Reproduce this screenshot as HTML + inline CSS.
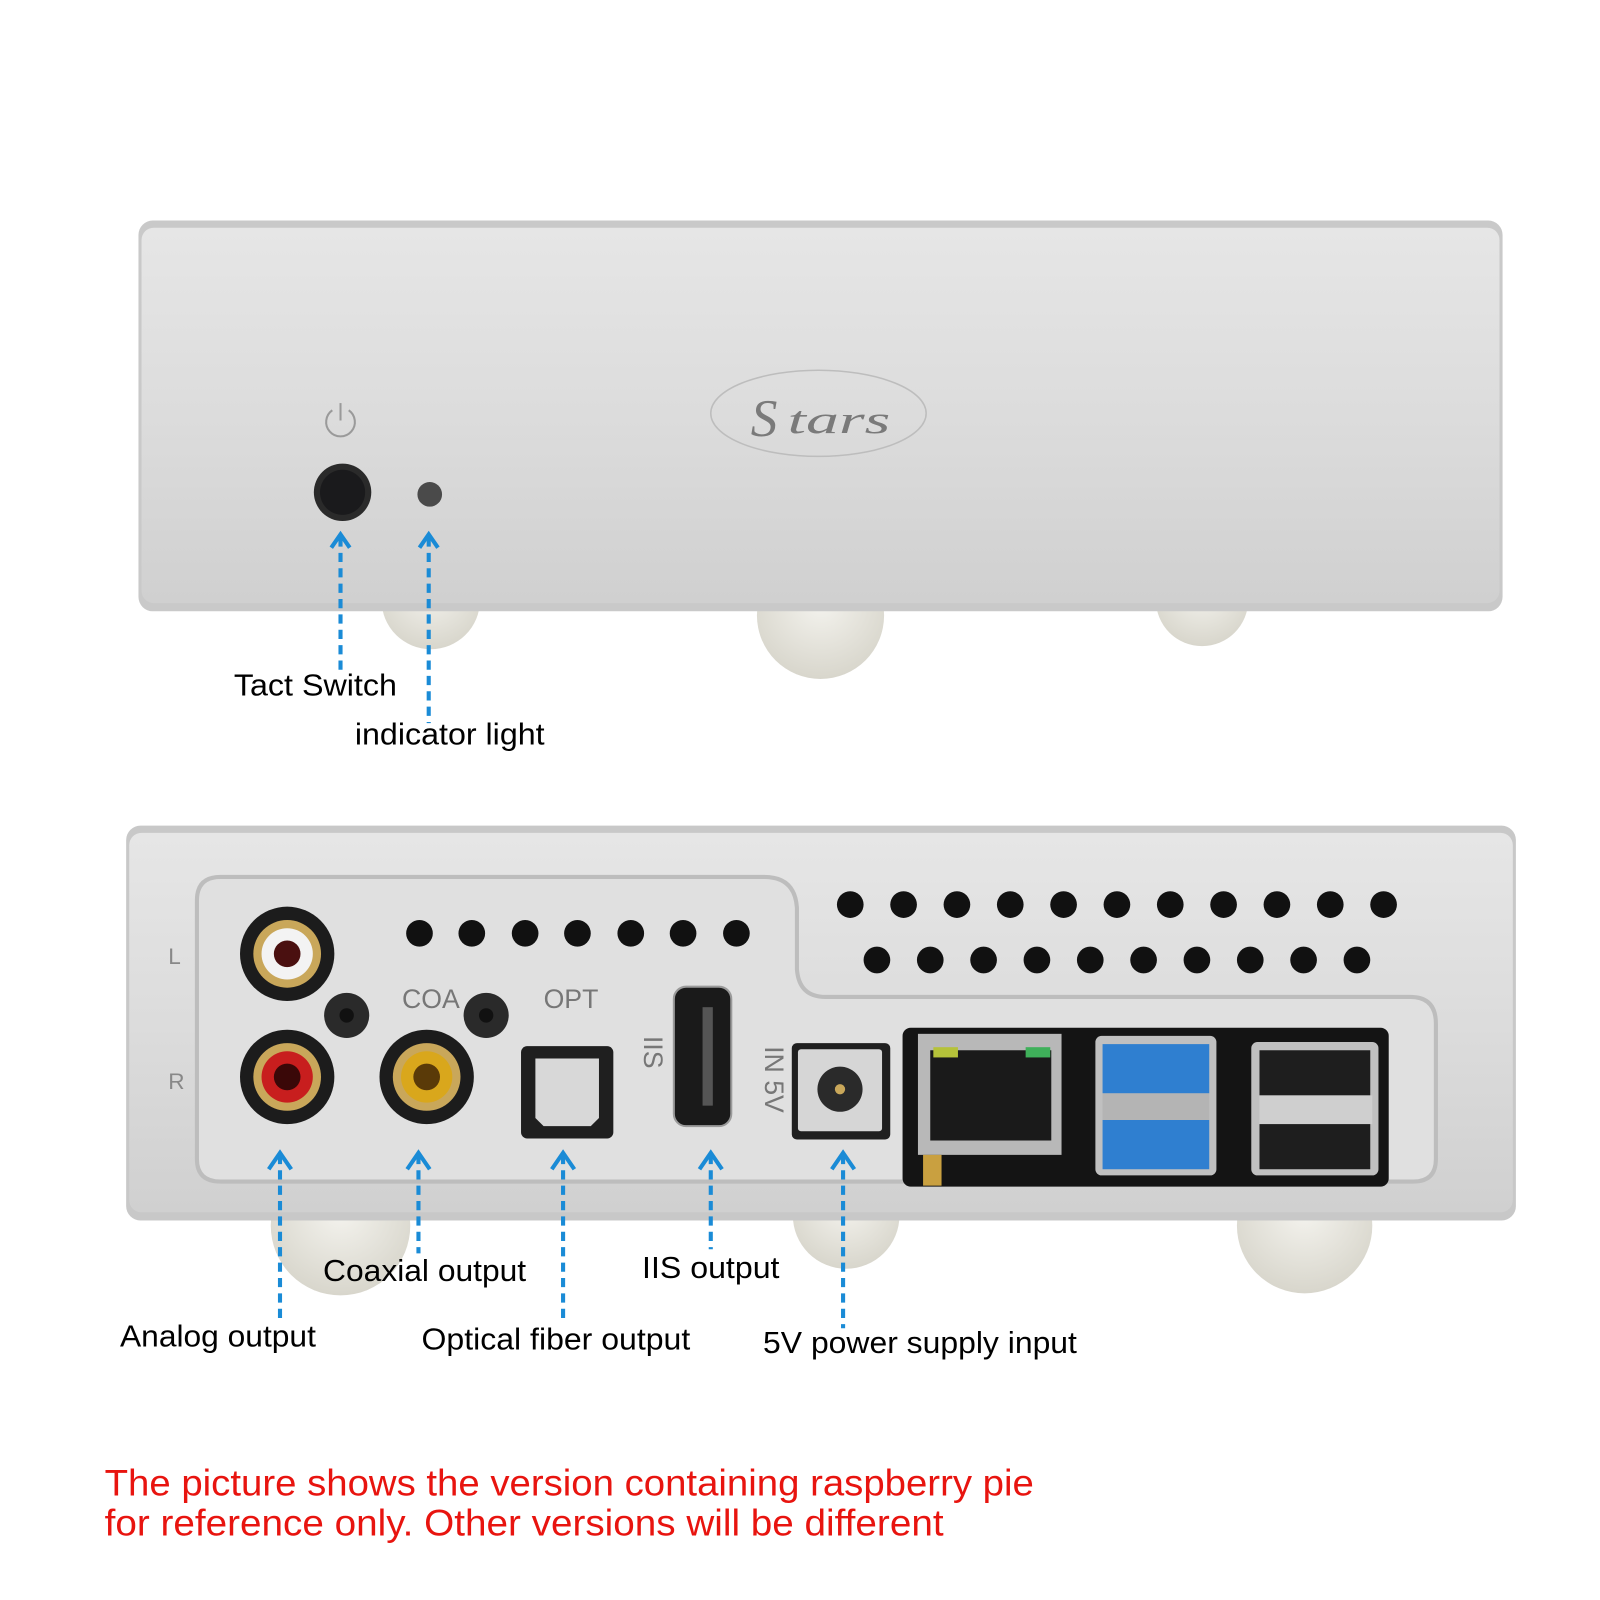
<!DOCTYPE html>
<html><head><meta charset="utf-8"><style>
html,body{margin:0;padding:0;background:#fff;}
svg{display:block;}
text{font-family:"Liberation Sans",sans-serif;}
</style></head><body>
<svg width="1600" height="1600" viewBox="0 0 1560 1560" xmlns="http://www.w3.org/2000/svg">
<defs>
<linearGradient id="box" x1="0" y1="0" x2="0" y2="1">
<stop offset="0" stop-color="#e6e6e6"/><stop offset="0.5" stop-color="#dcdcdc"/><stop offset="1" stop-color="#d0d0d0"/>
</linearGradient>
<radialGradient id="foot" cx="0.5" cy="0.4" r="0.6">
<stop offset="0" stop-color="#f4f3ee"/><stop offset="1" stop-color="#d8d6cc"/>
</radialGradient>
</defs>
<rect width="1560" height="1560" fill="#fff"/>

<circle cx="420" cy="585" r="48" fill="url(#foot)"/>
<circle cx="800" cy="600" r="62" fill="url(#foot)"/>
<circle cx="1172" cy="585" r="45" fill="url(#foot)"/>
<rect x="135" y="215" width="1330" height="381" rx="14" fill="#c9c9c9"/>
<rect x="138" y="222" width="1324" height="366" rx="12" fill="url(#box)"/>
<ellipse cx="798" cy="403" rx="105" ry="42" fill="none" stroke="#bdbdbd" stroke-width="1.5"/>
<text x="732" y="425" font-style="italic" font-size="52" fill="#7a7a7a" style="font-family:'Liberation Serif',serif">S</text>
<text x="768" y="422" font-style="italic" font-size="38" fill="#7a7a7a" style="font-family:'Liberation Serif',serif" textLength="100" lengthAdjust="spacingAndGlyphs">tars</text>
<path d="M324 400 A14 14 0 1 0 340 400" fill="none" stroke="#9a9a9a" stroke-width="2"/>
<line x1="332" y1="393" x2="332" y2="410" stroke="#9a9a9a" stroke-width="2"/>
<circle cx="334" cy="480" r="28" fill="#2a2a2a"/>
<circle cx="334" cy="480" r="22" fill="#1a1a1c"/>
<circle cx="419" cy="482" r="12" fill="#4a4a4a"/>

<g stroke="#1a8bd6" stroke-width="4" fill="none">
<line x1="332" y1="524" x2="332" y2="655" stroke-dasharray="9,6"/>
<polyline points="323,534 332,521 341,534"/>
<line x1="418" y1="524" x2="418" y2="705" stroke-dasharray="9,6"/>
<polyline points="409,534 418,521 427,534"/>
</g>
<g font-size="30" fill="#000" lengthAdjust="spacingAndGlyphs">
<text x="228" y="678" textLength="159" lengthAdjust="spacingAndGlyphs">Tact Switch</text>
<text x="346" y="726" textLength="185" lengthAdjust="spacingAndGlyphs">indicator light</text>
</g>

<circle cx="332" cy="1195" r="68" fill="url(#foot)"/>
<circle cx="825" cy="1185" r="52" fill="url(#foot)"/>
<circle cx="1272" cy="1195" r="66" fill="url(#foot)"/>
<rect x="123" y="805" width="1355" height="385" rx="14" fill="#c8c8c8"/>
<rect x="126" y="812" width="1349" height="370" rx="12" fill="url(#box)"/>
<path d="M215 855 L745 855 Q775 855 777 885 L777 945 Q779 972 805 972 L1375 972 Q1400 972 1400 998 L1400 1130 Q1400 1152 1378 1152 L215 1152 Q192 1152 192 1130 L192 878 Q192 855 215 855 Z" fill="#e0e0e0" stroke="#bdbdbd" stroke-width="4"/>
<g fill="#111">
<circle cx="409" cy="910" r="13"/><circle cx="460" cy="910" r="13"/><circle cx="512" cy="910" r="13"/><circle cx="563" cy="910" r="13"/><circle cx="615" cy="910" r="13"/><circle cx="666" cy="910" r="13"/><circle cx="718" cy="910" r="13"/>
<circle cx="829" cy="882" r="13"/><circle cx="881" cy="882" r="13"/><circle cx="933" cy="882" r="13"/><circle cx="985" cy="882" r="13"/><circle cx="1037" cy="882" r="13"/><circle cx="1089" cy="882" r="13"/><circle cx="1141" cy="882" r="13"/><circle cx="1193" cy="882" r="13"/><circle cx="1245" cy="882" r="13"/><circle cx="1297" cy="882" r="13"/><circle cx="1349" cy="882" r="13"/>
<circle cx="855" cy="936" r="13"/><circle cx="907" cy="936" r="13"/><circle cx="959" cy="936" r="13"/><circle cx="1011" cy="936" r="13"/><circle cx="1063" cy="936" r="13"/><circle cx="1115" cy="936" r="13"/><circle cx="1167" cy="936" r="13"/><circle cx="1219" cy="936" r="13"/><circle cx="1271" cy="936" r="13"/><circle cx="1323" cy="936" r="13"/>
</g>
<text x="164" y="940" font-size="22" fill="#888">L</text>
<text x="164" y="1062" font-size="22" fill="#888">R</text>
<circle cx="280" cy="930" r="46" fill="#1c1c1c"/><circle cx="280" cy="930" r="33" fill="#c9a75a"/><circle cx="280" cy="930" r="25" fill="#f3f3f3"/><circle cx="280" cy="930" r="13" fill="#4a1010"/>
<circle cx="280" cy="1050" r="46" fill="#1c1c1c"/><circle cx="280" cy="1050" r="33" fill="#c9a75a"/><circle cx="280" cy="1050" r="25" fill="#c81e1e"/><circle cx="280" cy="1050" r="13" fill="#3a0808"/>
<circle cx="338" cy="990" r="22" fill="#2a2a2a"/><circle cx="338" cy="990" r="7" fill="#111"/>
<circle cx="474" cy="990" r="22" fill="#2a2a2a"/><circle cx="474" cy="990" r="7" fill="#111"/>
<text x="392" y="983" font-size="26" fill="#777">COA</text>
<circle cx="416" cy="1050" r="46" fill="#1c1c1c"/><circle cx="416" cy="1050" r="33" fill="#c9a75a"/><circle cx="416" cy="1050" r="25" fill="#d9a71c"/><circle cx="416" cy="1050" r="13" fill="#5a3a08"/>
<text x="530" y="983" font-size="26" fill="#777">OPT</text>
<rect x="508" y="1020" width="90" height="90" rx="6" fill="#1f1f1f"/>
<path d="M522 1032 L584 1032 L584 1090 L576 1098 L530 1098 L522 1090 Z" fill="#d8d8d8"/>
<text x="0" y="0" font-size="26" fill="#777" transform="translate(628,1010) rotate(90)">IIS</text>
<rect x="657" y="962" width="56" height="136" rx="12" fill="#1a1a1a" stroke="#9a9a9a" stroke-width="2"/>
<rect x="685" y="982" width="10" height="96" fill="#555"/>
<text x="0" y="0" font-size="26" fill="#777" transform="translate(746,1020) rotate(90)">IN 5V</text>
<rect x="772" y="1017" width="96" height="94" rx="5" fill="#1f1f1f"/>
<rect x="778" y="1023" width="82" height="80" rx="3" fill="#d6d6d6"/>
<circle cx="819" cy="1062" r="22" fill="#2a2a2a"/><circle cx="819" cy="1062" r="5" fill="#c9a75a"/>
<rect x="880" y="1002" width="474" height="155" rx="8" fill="#141414"/>
<rect x="895" y="1008" width="140" height="118" fill="#b8b8b8"/>
<rect x="907" y="1024" width="118" height="88" fill="#1a1a1a"/>
<rect x="910" y="1021" width="24" height="10" fill="#b5c23a"/>
<rect x="1000" y="1021" width="24" height="10" fill="#3fb05a"/>
<rect x="900" y="1126" width="18" height="30" fill="#c9a040"/>
<rect x="1068" y="1010" width="118" height="136" rx="6" fill="#c0c0c0"/>
<rect x="1075" y="1018" width="104" height="48" fill="#2f7fd0"/>
<rect x="1075" y="1066" width="104" height="26" fill="#b4b4b4"/>
<rect x="1075" y="1092" width="104" height="48" fill="#2f7fd0"/>
<rect x="1220" y="1016" width="124" height="130" rx="6" fill="#c0c0c0"/>
<rect x="1228" y="1024" width="108" height="44" fill="#1e1e1e"/>
<rect x="1228" y="1068" width="110" height="28" fill="#cfcfcf"/>
<rect x="1228" y="1096" width="108" height="44" fill="#1e1e1e"/>

<g stroke="#1a8bd6" stroke-width="4" fill="none">
<line x1="273" y1="1126" x2="273" y2="1290" stroke-dasharray="9,6"/>
<polyline points="262,1140 273,1124 284,1140"/>
<line x1="408" y1="1126" x2="408" y2="1222" stroke-dasharray="9,6"/>
<polyline points="397,1140 408,1124 419,1140"/>
<line x1="549" y1="1126" x2="549" y2="1290" stroke-dasharray="9,6"/>
<polyline points="538,1140 549,1124 560,1140"/>
<line x1="693" y1="1126" x2="693" y2="1218" stroke-dasharray="9,6"/>
<polyline points="682,1140 693,1124 704,1140"/>
<line x1="822" y1="1126" x2="822" y2="1295" stroke-dasharray="9,6"/>
<polyline points="811,1140 822,1124 833,1140"/>
</g>
<g font-size="30" fill="#000">
<text x="315" y="1249" textLength="198" lengthAdjust="spacingAndGlyphs">Coaxial output</text>
<text x="117" y="1313" textLength="191" lengthAdjust="spacingAndGlyphs">Analog output</text>
<text x="411" y="1316" textLength="262" lengthAdjust="spacingAndGlyphs">Optical fiber output</text>
<text x="626" y="1246" textLength="134" lengthAdjust="spacingAndGlyphs">IIS output</text>
<text x="744" y="1319" textLength="306" lengthAdjust="spacingAndGlyphs">5V power supply input</text>
</g>
<g font-size="36" fill="#e8140f">
<text x="102" y="1458" textLength="906" lengthAdjust="spacingAndGlyphs">The picture shows the version containing raspberry pie</text>
<text x="102" y="1497" textLength="818" lengthAdjust="spacingAndGlyphs">for reference only. Other versions will be different</text>
</g>
</svg>
</body></html>
